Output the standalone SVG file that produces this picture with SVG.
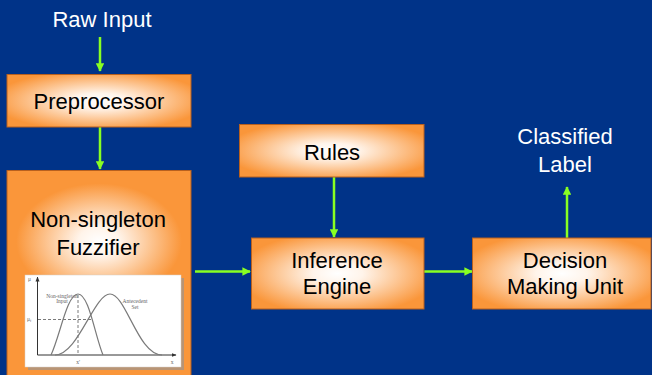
<svg xmlns="http://www.w3.org/2000/svg" width="652" height="375" viewBox="0 0 652 375">
<style>
.box{stroke:#B8601E;stroke-width:1}
.lbl{font-family:"Liberation Sans",Arial,sans-serif;font-size:22px;text-anchor:middle;fill:#000}
.wl{font-family:"Liberation Sans",Arial,sans-serif;font-size:22px;text-anchor:middle;fill:#fff}
.conn{stroke:#88FF22;stroke-width:2.5;fill:none;marker-end:url(#ah)}
.crv{stroke:#7a7a7a;stroke-width:1.2;fill:none}
.dsh{stroke:#7a7a7a;stroke-width:1;fill:none;stroke-dasharray:3,2}
.tiny{font-family:"Liberation Serif","Times New Roman",serif;font-size:5.5px;fill:#666}
</style>
<defs>
<radialGradient id="g" cx="0.5" cy="0.5" r="0.58">
<stop offset="0" stop-color="#FFFFFF"/>
<stop offset="0.25" stop-color="#FFF4EA"/>
<stop offset="1" stop-color="#FA963A"/>
</radialGradient>
<radialGradient id="gf" cx="0.5" cy="0.33" r="0.45" gradientTransform="translate(0.5 0.33) scale(1 0.6) translate(-0.5 -0.33)">
<stop offset="0" stop-color="#FFFFFF"/>
<stop offset="0.25" stop-color="#FFF4EA"/>
<stop offset="1" stop-color="#FA963A"/>
</radialGradient>
<marker id="ah" viewBox="0 0 10 10" refX="9" refY="5" markerWidth="3.4" markerHeight="3.4" orient="auto" markerUnits="strokeWidth">
<path d="M0,0 L10,5 L0,10 z" fill="#88FF22"/>
</marker>
<marker id="axh" viewBox="0 0 10 10" refX="9" refY="5" markerWidth="5" markerHeight="5" orient="auto" markerUnits="strokeWidth">
<path d="M0,1 L10,5 L0,9 z" fill="#333"/>
</marker>
</defs>
<rect x="0" y="0" width="652" height="375" fill="#003388"/>

<g id="connectors">
<line class="conn" x1="100" y1="37" x2="100" y2="71"/>
<line class="conn" x1="100" y1="127" x2="100" y2="169"/>
<line class="conn" x1="195" y1="271.5" x2="250" y2="271.5"/>
<line class="conn" x1="334" y1="177" x2="334" y2="237"/>
<line class="conn" x1="424" y1="271.5" x2="472" y2="271.5"/>
<line class="conn" x1="567" y1="238" x2="567" y2="187"/>
</g>

<g id="raw-input">
<text class="wl" x="102" y="27">Raw Input</text>
</g>

<g id="preprocessor">
<rect class="box" x="7" y="74.5" width="184" height="52.5" fill="url(#g)"/>
<text class="lbl" x="99" y="109">Preprocessor</text>
</g>

<g id="rules">
<rect class="box" x="239.5" y="124.5" width="184.5" height="52.5" fill="url(#g)"/>
<text class="lbl" x="332" y="160">Rules</text>
</g>

<g id="fuzzifier">
<rect class="box" x="7" y="170.5" width="184" height="215" fill="url(#gf)"/>
<text class="lbl" x="98" y="227">Non-singleton</text>
<text class="lbl" x="98" y="255">Fuzzifier</text>
<rect x="28" y="278" width="156" height="92" fill="#A89484" opacity="0.8"/>
<rect x="25" y="275" width="156" height="92" fill="#FFFFFF" stroke="#d8cfc8" stroke-width="0.5"/>
<line x1="37.5" y1="355" x2="37.5" y2="277" stroke="#333" stroke-width="1" marker-end="url(#axh)"/>
<line x1="37.5" y1="355" x2="176" y2="355" stroke="#333" stroke-width="1" marker-end="url(#axh)"/>
<path class="crv" d="M51,355 C60,336 67,294 78,294 C89,294 95,336 103,355"/>
<path class="crv" d="M55,355 C78,355 94,294 110,294 C126,294 138,355 162,355"/>
<path class="dsh" d="M38,319.5 H92"/>
<path class="dsh" d="M78,295 V355"/>
<text class="tiny" x="28" y="281">μ</text>
<text class="tiny" x="27" y="321">μ<tspan font-size="3.5" dy="1">f</tspan></text>
<text class="tiny" x="62" y="298" text-anchor="middle">Non-singleton</text>
<text class="tiny" x="62" y="303" text-anchor="middle">Input</text>
<text class="tiny" x="135" y="303" text-anchor="middle">Antecedent</text>
<text class="tiny" x="135" y="309" text-anchor="middle">Set</text>
<text class="tiny" x="78" y="364" text-anchor="middle">x'</text>
<text class="tiny" x="172" y="364" text-anchor="middle">x</text>
</g>

<g id="inference-engine">
<rect class="box" x="251.5" y="238" width="172.5" height="71" fill="url(#g)"/>
<text class="lbl" x="337" y="268">Inference</text>
<text class="lbl" x="337" y="294">Engine</text>
</g>

<g id="decision-making-unit">
<rect class="box" x="472.5" y="238" width="178.5" height="71" fill="url(#g)"/>
<text class="lbl" x="565" y="268">Decision</text>
<text class="lbl" x="565" y="294">Making Unit</text>
</g>

<g id="classified-label">
<text class="wl" x="565" y="144">Classified</text>
<text class="wl" x="565" y="172">Label</text>
</g>
</svg>
